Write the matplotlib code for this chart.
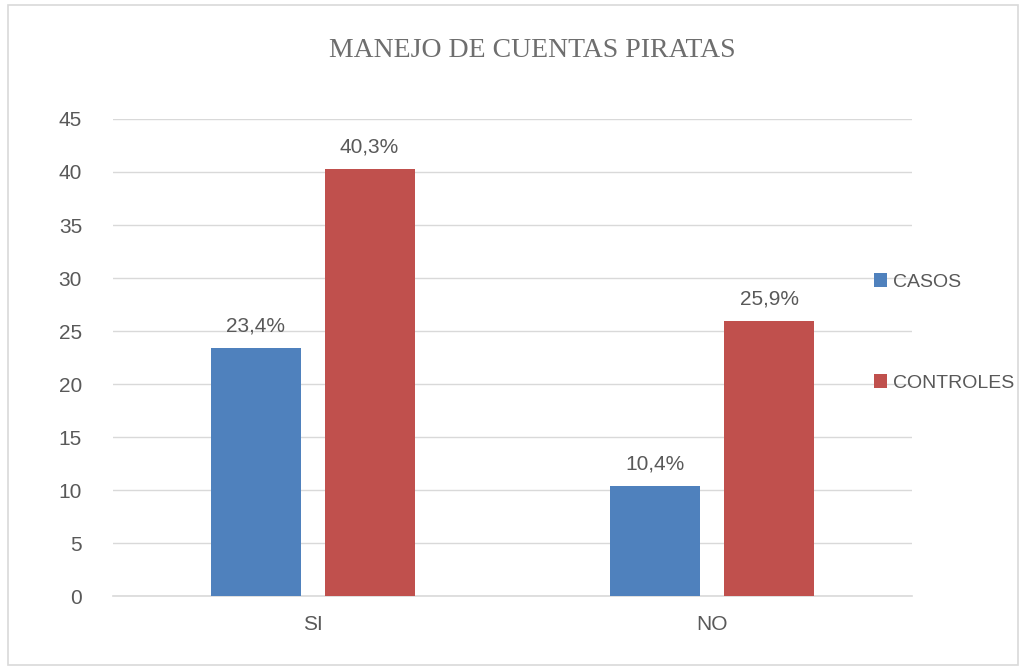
import matplotlib.pyplot as plt
import numpy as np
from matplotlib import font_manager
from matplotlib.patches import Rectangle

categories = ['SI', 'NO']
casos = [23.4, 10.4]
controles = [40.3, 25.9]
series_names = ['CASOS', 'CONTROLES']

# narrow sans if available
names = {f.name for f in font_manager.fontManager.ttflist}
sans = 'Liberation Sans Narrow' if 'Liberation Sans Narrow' in names else 'Liberation Sans'
plt.rcParams['font.family'] = [sans, 'DejaVu Sans']

txt = '#595959'
blue = '#4f81bd'
red = '#c0504d'

fig = plt.figure(figsize=(10.24, 6.67), dpi=100)
ax = fig.add_axes([0.110, 0.1064, 0.781, 0.7152])

x = np.arange(len(categories))
w = 0.225
off = 0.1425
ax.bar(x - off, casos, w, color=blue, label=series_names[0], zorder=3)
ax.bar(x + off, controles, w, color=red, label=series_names[1], zorder=3)

for xi, v in zip(x - off, casos):
    ax.text(xi, v + 1.2, f'{v:.1f}%'.replace('.', ','), ha='center', va='bottom', fontsize=15, color=txt)
for xi, v in zip(x + off, controles):
    ax.text(xi, v + 1.2, f'{v:.1f}%'.replace('.', ','), ha='center', va='bottom', fontsize=15, color=txt)

ax.set_xlim(-0.5, 1.5)
ax.set_ylim(0, 45)
ax.set_yticks(range(0, 46, 5))
ax.set_xticks(x)
ax.set_xticklabels(categories)
ax.tick_params(axis='both', length=0, labelsize=15, colors=txt)
ax.tick_params(axis='y', pad=22)
ax.tick_params(axis='x', pad=14)
ax.grid(axis='y', color='#d9d9d9', linewidth=1, zorder=0)
for s in ['top', 'right', 'left']:
    ax.spines[s].set_visible(False)
ax.spines['bottom'].set_color('#d9d9d9')
ax.spines['bottom'].set_linewidth(1.2)

fig.text(0.52, 0.925, 'MANEJO DE CUENTAS PIRATAS', ha='center', va='center',
         fontsize=20, color='#6e6e6e', family=['Liberation Serif', 'DejaVu Serif'])

leg = fig.legend(loc='upper left', bbox_to_anchor=(0.836, 0.617), frameon=False,
                 fontsize=14, labelcolor=txt, handlelength=0.7, handleheight=0.7,
                 handletextpad=0.3, labelspacing=4.3)

fig.patches.append(Rectangle((0.008, 0.003), 0.986, 0.99, transform=fig.transFigure,
                             fill=False, edgecolor='#d9d9d9', linewidth=1.2))

fig.savefig('out.png', dpi=100)
